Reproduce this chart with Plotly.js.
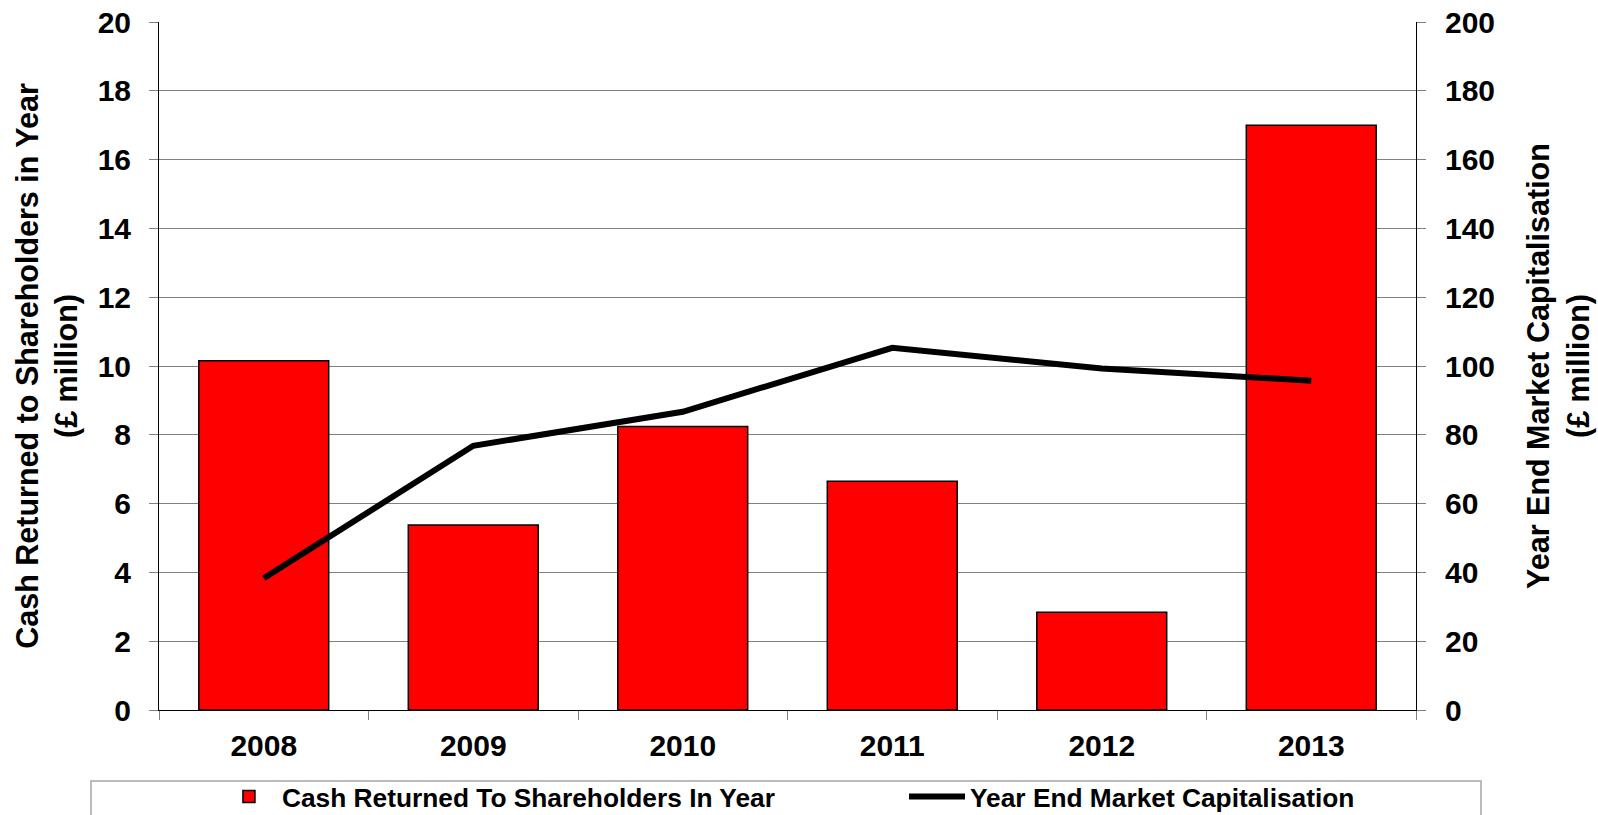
<!DOCTYPE html>
<html>
<head>
<meta charset="utf-8">
<script src="https://cdn.plot.ly/plotly-3.0.1.min.js"></script>
<style>
  html, body { margin: 0; padding: 0; background: #ffffff; }
  #chart { width: 1598px; height: 815px; }
</style>
</head>
<body>
<div id="chart"></div>
<script>
// ---- data ----
const years = ['2008', '2009', '2010', '2011', '2012', '2013'];
const cashReturned = [10.15, 5.38, 8.24, 6.65, 2.84, 17.0];      // £ million, left axis
const marketCap = [38.3, 76.8, 86.7, 105.3, 99.3, 95.7];          // £ million, right axis
const leftTicks = [0, 2, 4, 6, 8, 10, 12, 14, 16, 18, 20];
const rightTicks = [0, 20, 40, 60, 80, 100, 120, 140, 160, 180, 200];

const FONT = 'Liberation Sans, Arial, Helvetica, sans-serif';
const GRID = '#808080';

const traces = [
  {
    type: 'bar',
    name: 'Cash Returned To Shareholders In Year',
    x: years,
    y: cashReturned,
    marker: { color: '#ff0000', line: { color: '#000000', width: 1.5 } },
    yaxis: 'y',
    legend: 'legend',
    hoverinfo: 'x+y'
  },
  {
    type: 'scatter',
    mode: 'lines',
    name: 'Year End Market Capitalisation',
    x: years,
    y: marketCap,
    line: { color: '#000000', width: 6 },
    yaxis: 'y2',
    legend: 'legend2',
    hoverinfo: 'x+y'
  }
];

const legendCommon = {
  orientation: 'h',
  xanchor: 'left',
  y: -0.0916, yanchor: 'top',
  bgcolor: 'rgba(0,0,0,0)',
  borderwidth: 0,
  itemwidth: 56,
  font: { family: FONT, size: 26.3, color: '#000000', weight: 'bold' }
};

const layout = {
  width: 1598,
  height: 815,
  paper_bgcolor: '#ffffff',
  plot_bgcolor: '#ffffff',
  margin: { l: 159, r: 182, t: 22, b: 105, autoexpand: false },
  font: { family: FONT, color: '#000000', size: 30, weight: 'bold' },
  bargap: 0.38,
  showlegend: true,
  legend: Object.assign({}, legendCommon, { x: 0.0453 }),
  legend2: Object.assign({}, legendCommon, { x: 0.5927 }),
  xaxis: {
    type: 'category',
    range: [-0.5, 5.5],
    tickson: 'boundaries',
    ticks: 'outside',
    ticklen: 9,
    tickcolor: GRID,
    tickwidth: 1,
    showline: true,
    linecolor: '#000000',
    linewidth: 1,
    showgrid: false,
    zeroline: false,
    ticklabelstandoff: 9,
    tickfont: { family: FONT, size: 30, color: '#000000', weight: 'bold' },
    fixedrange: true
  },
  yaxis: {
    range: [0, 20],
    tickvals: leftTicks,
    ticktext: leftTicks.map(String),
    ticks: 'outside',
    ticklen: 9,
    tickcolor: GRID,
    showline: true,
    linecolor: '#000000',
    linewidth: 1,
    showgrid: true,
    gridcolor: GRID,
    gridwidth: 1,
    zeroline: false,
    ticklabelstandoff: 12,
    tickfont: { family: FONT, size: 30, color: '#000000', weight: 'bold' },
    title: {
      text: 'Cash Returned to Shareholders in Year<br>(£ million)',
      font: { family: FONT, size: 30.5, color: '#000000', weight: 'bold' },
      standoff: 10
    },
    fixedrange: true
  },
  yaxis2: {
    overlaying: 'y',
    side: 'right',
    range: [0, 200],
    tickvals: rightTicks,
    ticktext: rightTicks.map(String),
    ticks: 'outside',
    ticklen: 9,
    tickcolor: GRID,
    showline: true,
    linecolor: '#000000',
    linewidth: 1,
    showgrid: false,
    zeroline: false,
    ticklabelstandoff: 13,
    tickfont: { family: FONT, size: 30, color: '#000000', weight: 'bold' },
    title: {
      text: 'Year End Market Capitalisation<br>(£ million)',
      font: { family: FONT, size: 30.5, color: '#000000', weight: 'bold' },
      standoff: 33
    },
    fixedrange: true
  },
  shapes: [
    {
      type: 'rect', xref: 'paper', yref: 'paper',
      x0: -0.0541, x1: 1.0517, y0: -0.1032, y1: -0.18,
      line: { color: '#a6a6a6', width: 1.5 },
      fillcolor: 'rgba(0,0,0,0)',
      layer: 'below'
    }
  ]
};

Plotly.newPlot('chart', traces, layout, { displayModeBar: false, staticPlot: false });
</script>
</body>
</html>
